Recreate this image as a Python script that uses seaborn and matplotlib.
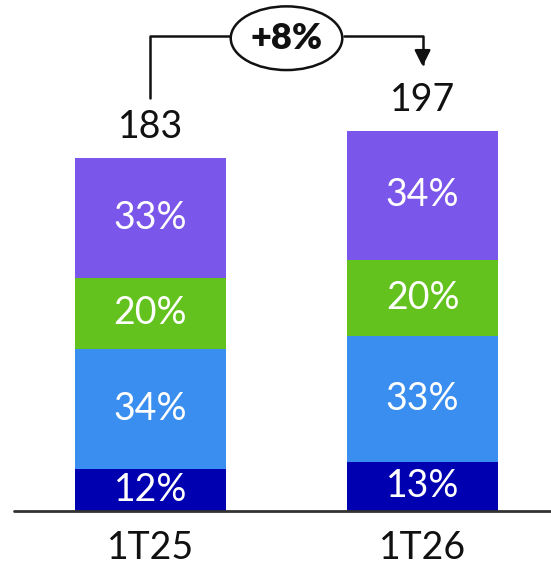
import matplotlib.pyplot as plt
import seaborn as sns
from matplotlib.patches import Ellipse

categories = ["1T25", "1T26"]
totals = [183, 197]
# shares of each segment, bottom to top
share_dark = [12, 13]
share_blue = [34, 33]
share_green = [20, 20]
share_purple = [33, 34]
growth_label = "+8%"

colors = ["#0000B0", "#3A8EEF", "#63C21E", "#7B56EA"]

sns.set_theme(style="white")
plt.rcParams["font.family"] = ["Lato", "DejaVu Sans"]

fig = plt.figure(figsize=(5.51, 5.68), dpi=100)
ax = fig.add_axes([0, 0, 1, 1])

layers = [share_dark, share_blue, share_green, share_purple]
bottom = [0.0, 0.0]
for i, (shares, col) in enumerate(zip(layers, colors)):
    if i == len(layers) - 1:
        heights = [t - b for t, b in zip(totals, bottom)]
    else:
        heights = [t * s / 100 for t, s in zip(totals, shares)]
    sns.barplot(x=categories, y=heights, bottom=bottom, color=col,
                width=0.555, saturation=1, linewidth=0, ax=ax)
    for j, (h, b) in enumerate(zip(heights, bottom)):
        ax.text(j, b + h / 2, f"{shares[j]}%", ha="center", va="center",
                color="white", fontsize=27)
    bottom = [b + h for b, h in zip(bottom, heights)]

for j, t in enumerate(totals):
    ax.text(j, t + 16, str(t), ha="center", va="center", color="#111111", fontsize=27)
    ax.text(j, -19, categories[j], ha="center", va="center", color="#111111", fontsize=27)

ax.axhline(0, xmin=14 / 551, xmax=1, color="#333333", lw=2)

# growth annotation
y_top = max(totals) + 49
ax.plot([0, 0, 0.3], [totals[0] + 31, y_top, y_top], color="#111111", lw=1.8)
ax.annotate("", xy=(1, totals[1] + 32), xytext=(0.7, y_top),
            arrowprops=dict(arrowstyle="-|>", connectionstyle="angle,angleA=0,angleB=90,rad=0",
                            color="#111111", lw=1.8, mutation_scale=24))
ax.add_patch(Ellipse((0.5, y_top - 1), 0.41, 33, facecolor="white",
                     edgecolor="#111111", lw=1.8, zorder=5))
ax.text(0.5, y_top - 1, growth_label, ha="center", va="center", fontsize=26,
        fontweight="heavy", color="#111111", zorder=6)

ax.set_xlim(-0.553, 1.472)
ax.set_ylim(-29.5, 264.8)
ax.axis("off")

fig.savefig("out.png", dpi=100)
